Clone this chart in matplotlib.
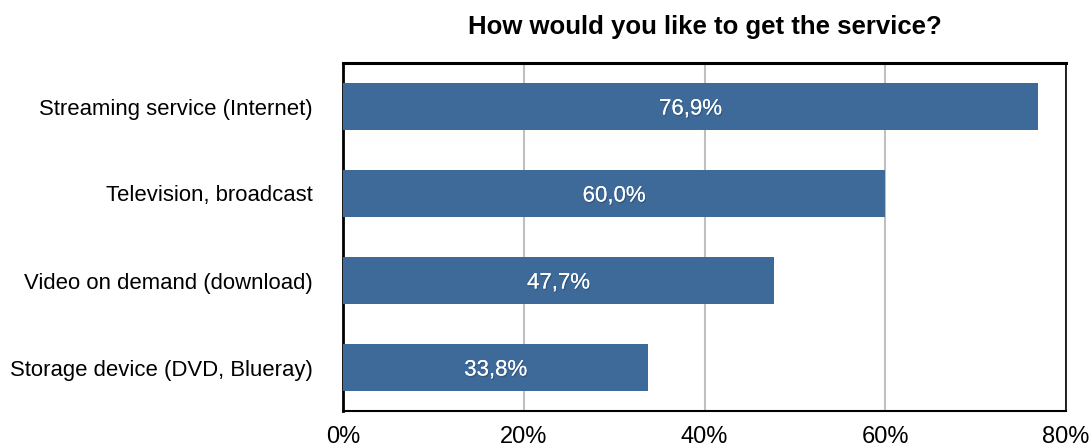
import matplotlib.pyplot as plt
import matplotlib.patheffects as pe
import numpy as np

categories = ['Streaming service (Internet)', 'Television, broadcast',
              'Video on demand (download)', 'Storage device (DVD, Blueray)']
values = [76.9, 60.0, 47.7, 33.8]
xticks = [0, 20, 40, 60, 80]

plt.rcParams['font.family'] = ['Liberation Sans', 'DejaVu Sans']

fig = plt.figure(figsize=(10.89, 4.48), dpi=100)
ax = fig.add_axes([343/1089, 37/448, 723/1089, 348/448])

y = np.arange(len(categories))
ax.barh(y, values, height=0.53, color='#3d6a99', zorder=3)
for yi, v in zip(y, values):
    ax.text(v/2, yi, ('%.1f%%' % v).replace('.', ','), ha='center', va='center_baseline',
            color='white', fontsize=16, zorder=4,
            path_effects=[pe.withSimplePatchShadow(offset=(0.8, -1.2), shadow_rgbFace='#1c3350', alpha=0.3),
                          pe.Normal()])

ax.set_xlim(0, 80)
ax.set_ylim(3.5, -0.5)
ax.set_yticks(y)
ax.set_yticklabels(categories, fontsize=15.9)
ax.set_xticks(xticks)
ax.set_xticklabels(['%d%%' % t for t in xticks], fontsize=17)
ax.tick_params(axis='y', length=0, pad=22)
ax.tick_params(axis='x', length=0, pad=11)
ax.xaxis.grid(True, color='#c0c0c0', linewidth=1.5, zorder=0)

ax.spines['top'].set_linewidth(2.2)
ax.spines['left'].set_linewidth(2.0)
ax.spines['right'].set_linewidth(1.2)
ax.spines['bottom'].set_linewidth(1.5)

fig.text(0.647, 0.94, 'How would you like to get the service?', ha='center', va='center',
         fontsize=18.5, fontweight='bold')

fig.savefig('out.png', dpi=100)
